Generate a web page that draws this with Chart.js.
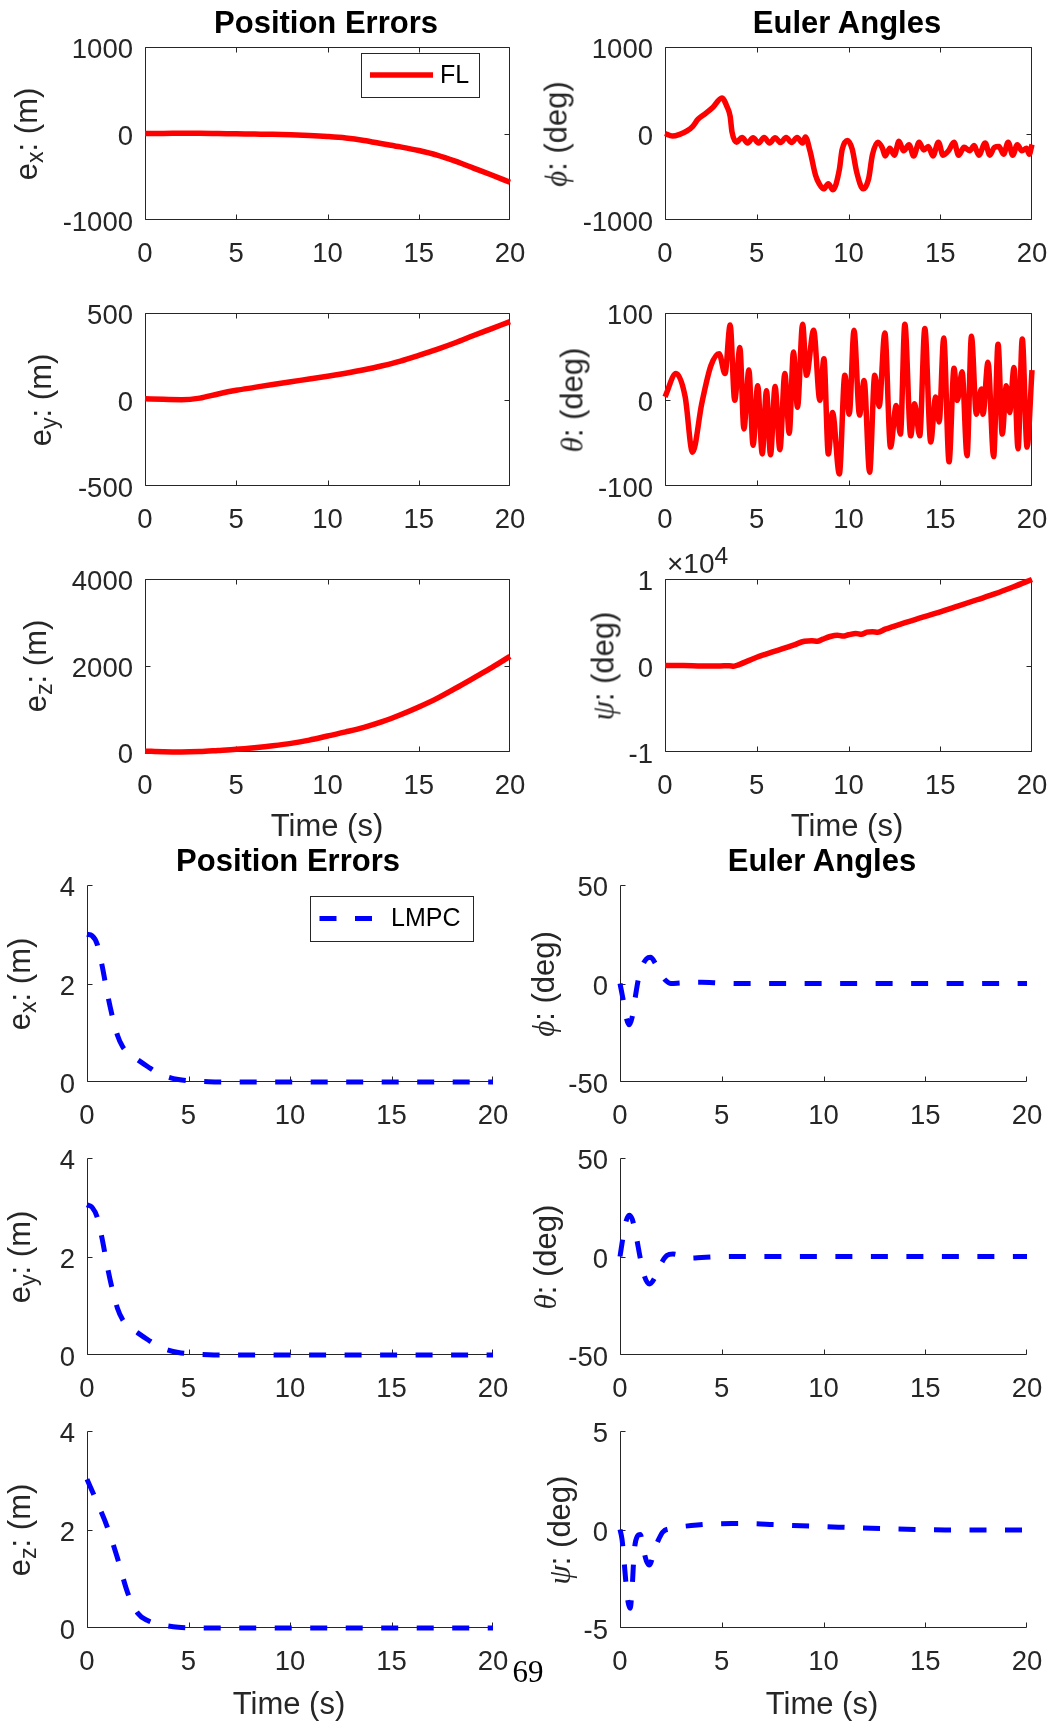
<!DOCTYPE html>
<html>
<head>
<meta charset="utf-8">
<title>Position Errors / Euler Angles – FL vs LMPC</title>
<script src="https://cdn.jsdelivr.net/npm/chart.js@4.4.1/dist/chart.umd.min.js"></script>
<style>
  html, body { margin: 0; padding: 0; background: #fff; }
  #fig { position: relative; width: 1053px; height: 1725px; overflow: hidden;
         font-family: "Liberation Sans", Arial, Helvetica, sans-serif; color: #262626; }
  #fig canvas { position: absolute; }
  .t { position: absolute; white-space: nowrap; line-height: 1; transform: translate(-50%, -50%); z-index: 5; }
  .title { font-weight: bold; font-size: 31px; color: #000; }
  .xl { font-size: 31px; }
  .yl { font-size: 31px; transform: translate(-50%, -50%) rotate(-90deg); }
  .g { font-family: "Liberation Serif", "DejaVu Serif", serif; font-style: italic; }
  sub { font-size: 75%; vertical-align: -0.28em; line-height: 0; }
  sup { font-size: 88%; vertical-align: 0.36em; line-height: 0; }
  .expo { position: absolute; font-size: 28px; line-height: 1; white-space: nowrap; z-index: 5; }
  .pg { font-family: "Liberation Serif", "DejaVu Serif", serif; font-size: 31px; color: #000; }
</style>
</head>
<body>
<div id="fig">
  <!-- titles -->
  <div class="t title" style="left:326px;top:22px">Position Errors</div>
  <div class="t title" style="left:847px;top:22px">Euler Angles</div>
  <div class="t title" style="left:288px;top:860px">Position Errors</div>
  <div class="t title" style="left:822px;top:860px">Euler Angles</div>

  <!-- x labels -->
  <div class="t xl" style="left:327px;top:824.5px">Time (s)</div>
  <div class="t xl" style="left:847px;top:824.5px">Time (s)</div>
  <div class="t xl" style="left:289px;top:1702.5px">Time (s)</div>
  <div class="t xl" style="left:822px;top:1702.5px">Time (s)</div>

  <!-- y labels: FL -->
  <div class="t yl" style="left:25.5px;top:133.5px">e<sub>x</sub>: (m)</div>
  <div class="t yl" style="left:39.5px;top:399.5px">e<sub>y</sub>: (m)</div>
  <div class="t yl" style="left:34.5px;top:665.5px">e<sub>z</sub>: (m)</div>
  <div class="t yl" style="left:555.5px;top:133.5px"><span class="g">&#x3D5;</span>: (deg)</div>
  <div class="t yl" style="left:571.5px;top:399.5px"><span class="g">&#x3B8;</span>: (deg)</div>
  <div class="t yl" style="left:602.5px;top:665.5px"><span class="g">&#x3C8;</span>: (deg)</div>

  <!-- y labels: LMPC -->
  <div class="t yl" style="left:18.5px;top:983.5px">e<sub>x</sub>: (m)</div>
  <div class="t yl" style="left:18.5px;top:1256.5px">e<sub>y</sub>: (m)</div>
  <div class="t yl" style="left:19px;top:1529.5px">e<sub>z</sub>: (m)</div>
  <div class="t yl" style="left:543px;top:983.5px"><span class="g">&#x3D5;</span>: (deg)</div>
  <div class="t yl" style="left:544.5px;top:1256.5px"><span class="g">&#x3B8;</span>: (deg)</div>
  <div class="t yl" style="left:559px;top:1529.5px"><span class="g">&#x3C8;</span>: (deg)</div>

  <!-- exponent of psi axis -->
  <div class="expo" style="left:667px;top:549.5px">&times;10<sup>4</sup></div>

  <!-- page number -->
  <div class="t pg" style="left:528px;top:1671px">69</div>
</div>

<script>
// ---------------- DATA ----------------
const X_TICKS = [0, 5, 10, 15, 20];

// FL controller (top half)
const flPosT = [0,1,2,3,4,5,6,7,8,9,10,11,12,13,14,15,16,17,18,19,20];
const flEx = [0,0,3,2,-1,-4,-7,-10,-15,-23,-35,-52,-80,-118,-155,-197,-250,-320,-400,-480,-564];
const flEy = [5,1,-1,8,32,53,70,87,103,118,134,152,172,195,222,255,290,328,370,410,450];
const flEz = [20,5,0,10,35,62,100,145,200,275,369,465,570,700,860,1040,1240,1470,1710,1950,2210];

const flPhiT = [0,0.4,0.8,1.2,1.5,1.8,2.2,2.6,3.1,3.4,3.55,3.65,3.9,4.2,4.5,4.8,5.1,5.4,5.7,6.0,6.3,6.6,6.9,7.2,7.5,7.65,7.9,8.2,8.4,8.65,8.9,9.15,9.5,9.65,9.95,10.2,10.45,10.8,11.1,11.3,11.6,11.85,12.0,12.25,12.5,12.75,13.0,13.3,13.55,13.85,14.1,14.35,14.6,14.9,15.15,15.45,15.75,16.0,16.3,16.6,16.85,17.1,17.45,17.7,17.95,18.2,18.45,18.7,18.95,19.2,19.45,19.7,19.85,20];
const flPhi  = [0,-30,-10,30,80,165,230,300,410,300,200,20,-100,-45,-110,-50,-110,-45,-110,-50,-105,-45,-105,-45,-110,-40,-200,-480,-580,-640,-580,-650,-420,-190,-80,-180,-450,-640,-520,-250,-100,-170,-260,-170,-250,-90,-200,-130,-260,-100,-190,-150,-260,-100,-250,-200,-100,-250,-160,-200,-140,-250,-110,-250,-160,-150,-240,-100,-250,-130,-200,-170,-240,-127];

const flThetaT = [0,0.6,1.1,1.5,2.0,2.5,2.95,3.27,3.55,3.8,4.08,4.3,4.57,4.8,5.05,5.3,5.53,5.75,6.0,6.26,6.53,6.77,7.0,7.22,7.5,7.71,8.1,8.44,8.66,8.9,9.13,9.5,9.8,10.04,10.3,10.6,10.85,11.15,11.43,11.67,11.98,12.29,12.6,12.83,13.07,13.39,13.6,13.88,14.16,14.48,14.75,14.94,15.19,15.48,15.75,15.93,16.19,16.46,16.7,16.97,17.24,17.33,17.6,17.91,18.15,18.38,18.6,18.78,19.02,19.24,19.47,19.73,20];
const flTheta  = [3,30,3,-61,-5,39,53,30,86,-1,60,-34,34,-53,16,-63,10,-64,15,-58,30,-39,55,-9,87,28,80,-1,47,-63,-15,-86,28,-17,80,-18,22,-84,28,-8,77,-55,-7,-40,87,-42,-5,-42,82,-49,3,-26,71,-72,36,-1,32,-65,73,-17,12,-17,43,-66,64,-40,16,-15,37,-57,70,-55,34];

const flPsiT = [0,1,2,3,3.5,3.75,4,5,6,7,7.6,8.0,8.3,8.6,9.0,9.4,9.7,10.0,10.4,10.7,11.0,11.3,11.6,12,13,14,15,16,17,18,19,20];
const flPsi  = [0,0,-60,-50,-20,-80,80,950,1650,2350,2800,2850,2800,3050,3350,3500,3400,3550,3700,3600,3850,3900,3850,4200,4900,5550,6200,6900,7600,8300,9100,9950];

// LMPC controller (bottom half)
const lmPosT = [0,0.25,0.5,0.75,1,1.25,1.5,1.75,2,2.5,3,3.5,4,4.5,5,6,7,8,10,12,14,16,18,20];
const lmEx = [3.0,2.97,2.8,2.35,1.8,1.33,0.95,0.72,0.6,0.45,0.31,0.18,0.1,0.05,0.025,0.005,0,0,0,0,0,0,0,0];
const lmEy = [3.05,3.0,2.8,2.35,1.8,1.33,0.95,0.72,0.6,0.45,0.31,0.18,0.1,0.05,0.025,0.005,0,0,0,0,0,0,0,0];
const lmEzT = [0,0.5,1,1.5,2,2.5,3,3.5,4,4.5,5,6,8,10,12,14,16,18,20];
const lmEz  = [3.02,2.55,2.05,1.42,0.72,0.3,0.15,0.08,0.04,0.015,0.005,0,0,0,0,0,0,0,0];

const lmPhiT = [0,0.15,0.3,0.45,0.6,0.75,0.9,1.1,1.3,1.5,1.75,2,2.25,2.5,3,4,5,6,8,12,16,20];
const lmPhi  = [0,-8,-17,-21,-17,-7,2,9,12.5,13.3,10,5,1.5,0,0.3,0.6,0.2,0,0,0,0,0];

const lmThetaT = [0,0.15,0.3,0.45,0.6,0.8,1.0,1.2,1.45,1.7,2.0,2.3,2.6,3,3.5,4,5,6,8,12,16,20];
const lmTheta  = [0,10,18,21,19,10,-1,-10,-14,-11,-4,0.5,1.3,0.5,-0.8,-0.5,-0.1,0,0,0,0,0];

const lmPsiT = [0,0.1,0.2,0.3,0.4,0.5,0.6,0.7,0.85,1.0,1.15,1.3,1.45,1.7,1.9,2.1,2.5,2.85,3.5,4.5,5.5,6.5,7.5,8.5,10,11.5,13,14.5,16,18,20];
const lmPsi  = [0,-0.5,-1.6,-2.8,-3.7,-4.0,-2.9,-1.1,-0.35,-0.25,-1.0,-1.6,-1.8,-1.0,-0.5,-0.13,0.05,0.12,0.2,0.28,0.3,0.3,0.25,0.2,0.15,0.09,0.04,0,-0.02,-0.03,-0.03];

// tick values
const flExTicks = [-1000, 0, 1000];
const flEyTicks = [-500, 0, 500];
const flEzTicks = [0, 2000, 4000];
const flPhiTicks = [-1000, 0, 1000];
const flThetaTicks = [-100, 0, 100];
const flPsiTicks = [-10000, 0, 10000];
const lmPosTicks = [0, 2, 4];
const lmAngTicks = [-50, 0, 50];
const lmPsiTicks = [-5, 0, 5];

// ---------------- STYLE ----------------
const FONT = '"Liberation Sans", Arial, Helvetica, sans-serif';
const AX = '#262626';
const RED = '#ff0000';
const BLUE = '#0000ff';

const axesPlugin = {
  id: 'mAxes',
  beforeDatasetsDraw(chart, args, o) {
    const ctx = chart.ctx, a = chart.chartArea;
    const xs = chart.scales.x, ys = chart.scales.y;
    const l = Math.round(a.left) + 0.5, r = Math.round(a.right) - 0.5;
    const t = Math.round(a.top) + 0.5, b = Math.round(a.bottom) - 0.5;
    const tl = 5;
    ctx.save();
    ctx.strokeStyle = AX; ctx.lineWidth = 1; ctx.setLineDash([]);
    ctx.beginPath();
    if (o.box) { ctx.rect(l, t, r - l, b - t); }
    else { ctx.moveTo(l, t); ctx.lineTo(l, b); ctx.lineTo(r, b); }
    xs.ticks.forEach(tk => {
      let px = Math.round(xs.getPixelForValue(tk.value)) + 0.5;
      px = Math.min(Math.max(px, l), r);
      ctx.moveTo(px, b); ctx.lineTo(px, b - tl);
      if (o.box) { ctx.moveTo(px, t); ctx.lineTo(px, t + tl); }
    });
    ys.ticks.forEach(tk => {
      let py = Math.round(ys.getPixelForValue(tk.value)) + 0.5;
      py = Math.min(Math.max(py, t), b);
      ctx.moveTo(l, py); ctx.lineTo(l + tl, py);
      if (o.box) { ctx.moveTo(r, py); ctx.lineTo(r - tl, py); }
    });
    ctx.stroke();
    ctx.restore();
  },
  afterDatasetsDraw(chart, args, o) {
    const g = o.legend;
    if (!g) return;
    const ds = chart.data.datasets[0];
    const ctx = chart.ctx, ox = o.ox, oy = o.oy;
    ctx.save();
    const x0 = Math.round(g.box[0] - ox) + 0.5, y0 = Math.round(g.box[1] - oy) + 0.5;
    const w = Math.round(g.box[2] - g.box[0]), h = Math.round(g.box[3] - g.box[1]);
    ctx.fillStyle = '#fff'; ctx.fillRect(x0, y0, w, h);
    ctx.strokeStyle = AX; ctx.lineWidth = 1; ctx.setLineDash([]);
    ctx.strokeRect(x0, y0, w, h);
    ctx.beginPath();
    ctx.strokeStyle = ds.borderColor; ctx.lineWidth = ds.borderWidth;
    ctx.lineCap = 'butt';
    ctx.setLineDash(ds.borderDash || []);
    ctx.moveTo(g.sample[0] - ox, g.cy - oy); ctx.lineTo(g.sample[1] - ox, g.cy - oy);
    ctx.stroke();
    ctx.setLineDash([]);
    ctx.fillStyle = '#000';
    ctx.font = '25px ' + FONT;
    ctx.textBaseline = 'middle'; ctx.textAlign = 'left';
    ctx.fillText(ds.label, g.textX - ox, g.cy - oy + 1);
    ctx.restore();
  }
};

const panels = [
  { r: [145, 47, 510, 220],  t: flPosT,   v: flEx,    yt: flExTicks,    color: RED,  box: true, label: 'FL',
    legend: { box: [361, 53, 479, 97], sample: [370, 433], cy: 75, textX: 440 } },
  { r: [145, 313, 510, 486], t: flPosT,   v: flEy,    yt: flEyTicks,    color: RED,  box: true, label: 'FL' },
  { r: [145, 579, 510, 752], t: flPosT,   v: flEz,    yt: flEzTicks,    color: RED,  box: true, label: 'FL' },
  { r: [665, 47, 1032, 220], t: flPhiT,   v: flPhi,   yt: flPhiTicks,   color: RED,  box: true, label: 'FL' },
  { r: [665, 313, 1032, 486],t: flThetaT, v: flTheta, yt: flThetaTicks, color: RED,  box: true, label: 'FL' },
  { r: [665, 579, 1032, 752],t: flPsiT,   v: flPsi,   yt: flPsiTicks,   color: RED,  box: true, label: 'FL',
    fmt: v => String(v / 10000) },
  { r: [87, 885, 493, 1082], t: lmPosT,   v: lmEx,    yt: lmPosTicks,   color: BLUE, box: false, label: 'LMPC', dash: true,
    legend: { box: [310, 896, 473, 941], sample: [319.5, 372], cy: 918.5, textX: 391 } },
  { r: [87, 1158, 493, 1355],t: lmPosT,   v: lmEy,    yt: lmPosTicks,   color: BLUE, box: false, label: 'LMPC', dash: true },
  { r: [87, 1431, 493, 1628],t: lmEzT,    v: lmEz,    yt: lmPosTicks,   color: BLUE, box: false, label: 'LMPC', dash: true },
  { r: [620, 885, 1027, 1082],t: lmPhiT,  v: lmPhi,   yt: lmAngTicks,   color: BLUE, box: false, label: 'LMPC', dash: true },
  { r: [620, 1158, 1027, 1355],t: lmThetaT,v: lmTheta,yt: lmAngTicks,   color: BLUE, box: false, label: 'LMPC', dash: true },
  { r: [620, 1431, 1027, 1628],t: lmPsiT, v: lmPsi,   yt: lmPsiTicks,   color: BLUE, box: false, label: 'LMPC', dash: true }
];

const fig = document.getElementById('fig');
const PL = 90, PT = 40, PR = 50, PB = 64;

panels.forEach(p => {
  const w = p.r[2] - p.r[0], h = p.r[3] - p.r[1];
  const cv = document.createElement('canvas');
  cv.width = w + PL + PR; cv.height = h + PT + PB;
  cv.style.width = cv.width + 'px'; cv.style.height = cv.height + 'px';
  const ox = p.r[0] - PL, oy = p.r[1] - PT;
  cv.style.left = ox + 'px'; cv.style.top = oy + 'px';
  fig.insertBefore(cv, fig.firstChild);
  const tickFont = { family: FONT, size: 27.5 };
  new Chart(cv, {
    type: 'line',
    data: {
      datasets: [{
        label: p.label,
        data: p.t.map((x, i) => ({ x: x, y: p.v[i] })),
        borderColor: p.color,
        borderWidth: p.dash ? 5 : 5.5,
        borderDash: p.dash ? [17, 18.5] : [],
        borderCapStyle: 'butt',
        borderJoinStyle: 'round',
        cubicInterpolationMode: 'monotone',
        pointRadius: 0,
        fill: false,
        clip: 5
      }]
    },
    options: {
      responsive: false,
      animation: false,
      events: [],
      devicePixelRatio: 1,
      layout: { padding: { left: 0, top: PT, right: PR, bottom: 0 } },
      plugins: {
        legend: { display: false },
        tooltip: { enabled: false },
        mAxes: { box: p.box, legend: p.legend || null, ox: ox, oy: oy }
      },
      scales: {
        x: {
          type: 'linear', min: 0, max: 20,
          afterBuildTicks: s => { s.ticks = X_TICKS.map(v => ({ value: v })); },
          afterFit: s => { s.height = PB; },
          grid: { display: false, drawTicks: false },
          border: { display: false },
          ticks: { font: tickFont, color: AX, padding: 17.5, maxRotation: 0, autoSkip: false,
                   callback: v => String(v) }
        },
        y: {
          type: 'linear', min: p.yt[0], max: p.yt[p.yt.length - 1],
          afterBuildTicks: s => { s.ticks = p.yt.map(v => ({ value: v })); },
          afterFit: s => { s.width = PL; },
          grid: { display: false, drawTicks: false },
          border: { display: false },
          ticks: { font: tickFont, color: AX, padding: 12, labelOffset: 3.5, autoSkip: false,
                   callback: p.fmt || (v => String(v)) }
        }
      }
    },
    plugins: [axesPlugin]
  });
});
</script>
</body>
</html>
